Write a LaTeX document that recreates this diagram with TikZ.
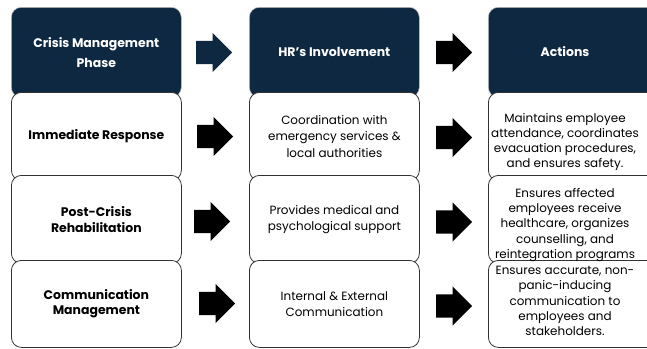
\documentclass[tikz,border=0pt]{standalone}
\usepackage{fontspec}
\setmainfont{Poppins}
\usetikzlibrary{shapes.arrows}
\definecolor{navy}{HTML}{0E2841}
\begin{document}
\begin{tikzpicture}[x=1bp,y=-1bp,
 hdr/.style={fill=navy, draw=black!25, line width=0.6bp, rounded corners=10bp, minimum width=170bp, minimum height=90bp, inner sep=0pt, text=white, font=\fontsize{12.5}{20}\selectfont\bfseries, align=center, anchor=north west},
 cell/.style={fill=white, draw=black!80, line width=0.8bp, rounded corners=10bp, minimum width=170bp, minimum height=88bp, inner sep=0pt, anchor=north west, align=center, font=\fontsize{12}{16.5}\selectfont},
 phase/.style={cell, font=\fontsize{12.5}{15.5}\selectfont\bfseries},
 txt/.style={inner sep=0pt, align=center, font=\fontsize{12}{15.2}\selectfont},
 blk/.style={single arrow, fill=black, draw=none, minimum height=36bp, minimum width=39bp, single arrow head extend=8bp, single arrow tip angle=90, inner xsep=0pt, inner ysep=11.5bp, text height=0pt, text depth=0pt, anchor=tail}]
\useasboundingbox (0,0) rectangle (647,348);
% headers
\node[hdr] (h1) at (11,7) {Crisis Management\\Phase};
\node[hdr] (h2) at (249,7) {HR’s Involvement};
\node[hdr] (h3) at (488,7) {};
\node[text=white, font=\fontsize{12.5}{20}\selectfont\bfseries, inner sep=0pt] (h3t) at (565,52) {Actions};
% column 1
\node[phase] (p1) at (11,92) {Immediate Response};
\node[phase] (p2) at (11,175) {Post-Crisis\\Rehabilitation};
\node[phase, minimum height=87bp] (p3) at (11,260) {Communication\\Management};
% column 2
\node[cell] (i1) at (249,92) {Coordination with\\emergency services \&\\local authorities};
\node[cell] (i2) at (249,175) {Provides medical and\\psychological support};
\node[cell, minimum height=87bp] (i3) at (249,260) {Internal \& External\\Communication};
% column 3
\node[cell] (a1) at (488,92) {};
\node[cell] (a2) at (488,175) {};
\node[cell, minimum height=87bp] (a3) at (488,260) {};
\node[txt] (a1t) at (565,142) {Maintains employee\\attendance, coordinates\\evacuation procedures,\\and ensures safety.};
\node[txt] (a2t) at (565,225) {Ensures affected\\employees receive\\healthcare, organizes\\counselling, and\\reintegration programs};
\node[txt] (a3t) at (565,301) {Ensures accurate, non-\\panic-inducing\\communication to\\employees and\\stakeholders.};
% arrows
\node[blk, fill=navy] (ah1) at (196,52.5) {};
\node[blk] (ar1) at (197,136.5) {};
\node[blk] (ar2) at (194,221.5) {};
\node[blk] (ar3) at (199,303.5) {};
\node[blk] (bh1) at (436,52.5) {};
\node[blk] (br1) at (436,137.5) {};
\node[blk] (br2) at (436,222) {};
\node[blk] (br3) at (436,306) {};
\end{tikzpicture}
\end{document}
